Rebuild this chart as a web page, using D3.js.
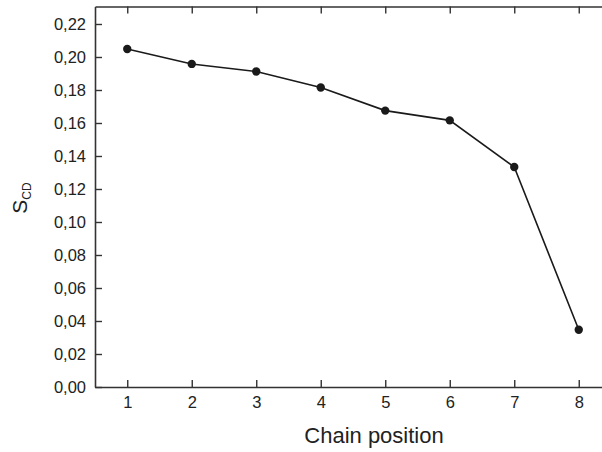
<!DOCTYPE html>
<html>
<head>
<meta charset="utf-8">
<script src="https://d3js.org/d3.v7.min.js"></script>
<style>
  body { margin: 0; background: #fff; }
  text { font-family: "Liberation Sans", Arial, sans-serif; fill: #222; }
</style>
</head>
<body>
<svg id="drawing_region"></svg>
<script>
const positions = [1, 2, 3, 4, 5, 6, 7, 8];
const scd = [0.2048, 0.1958, 0.1912, 0.1815, 0.1675, 0.1616, 0.1333, 0.0347];
const y_ticks = [0, 0.02, 0.04, 0.06, 0.08, 0.10, 0.12, 0.14, 0.16, 0.18, 0.20, 0.22];

const data = positions.map((p, i) => ({ x: p, y: scd[i] }));

const config = {
  width: 602,
  height: 452,
  margin: { top: 6.5, right: -9, bottom: 65, left: 95 }
};

const svg = d3.select('#drawing_region')
  .attr('width', config.width)
  .attr('height', config.height);

const chart_width = config.width - config.margin.left - config.margin.right;
const chart_height = config.height - config.margin.top - config.margin.bottom;

const chart = svg.append('g')
  .attr('transform', `translate(${config.margin.left}, ${config.margin.top})`);

const x_scale = d3.scaleLinear().domain([0.5, 8.5]).range([0, chart_width]);
const y_scale = d3.scaleLinear().domain([0, 0.2306]).range([chart_height, 0]);

const fmt = d => d3.format('.2f')(d).replace('.', ',');

// bottom axis
const x_axis = d3.axisBottom(x_scale).tickValues(positions).tickSize(-7).tickPadding(9.5).tickSizeOuter(0);
const xg = chart.append('g')
  .attr('transform', `translate(0, ${chart_height})`)
  .call(x_axis);

// top axis (ticks only)
const tg = chart.append('g')
  .call(d3.axisTop(x_scale).tickValues(positions).tickSize(-7).tickFormat('').tickSizeOuter(0));

// left axis
const y_axis = d3.axisLeft(y_scale).tickValues(y_ticks).tickSize(-7).tickPadding(9).tickFormat(fmt).tickSizeOuter(0);
const yg = chart.append('g').call(y_axis);

[xg, tg, yg].forEach(g => {
  g.select('.domain').attr('stroke', '#333').attr('stroke-width', 1.6);
  g.selectAll('.tick line').attr('stroke', '#333').attr('stroke-width', 1.4);
  g.selectAll('.tick text')
    .style('font-family', '"Liberation Sans", Arial, sans-serif')
    .style('font-size', '16.5px')
    .attr('fill', '#222');
});

// line + points
const line = d3.line().x(d => x_scale(d.x)).y(d => y_scale(d.y));
chart.append('path')
  .attr('d', line(data))
  .attr('fill', 'none')
  .attr('stroke', '#1a1a1a')
  .attr('stroke-width', 1.6);

chart.selectAll('circle')
  .data(data)
  .enter()
  .append('circle')
  .attr('cx', d => x_scale(d.x))
  .attr('cy', d => y_scale(d.y))
  .attr('r', 4.2)
  .attr('fill', '#1a1a1a');

// axis titles
svg.append('text')
  .attr('x', 374)
  .attr('y', 443)
  .attr('text-anchor', 'middle')
  .style('font-size', '22px')
  .text('Chain position');

const ylab = svg.append('text')
  .attr('transform', 'translate(27, 198) rotate(-90)')
  .attr('text-anchor', 'middle')
  .style('font-size', '21px');
ylab.append('tspan').text('S');
ylab.append('tspan').attr('dy', 4).style('font-size', '12px').text('CD');
</script>
</body>
</html>
